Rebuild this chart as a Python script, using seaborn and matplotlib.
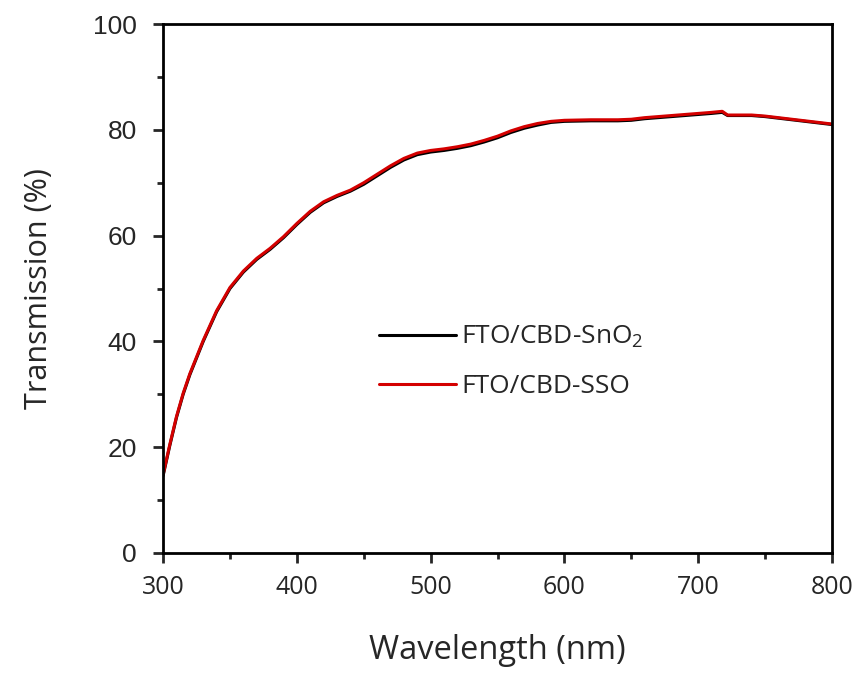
import numpy as np
import matplotlib
matplotlib.use("Agg")
import matplotlib.pyplot as plt
import pandas as pd
import seaborn as sns
from matplotlib.ticker import MultipleLocator

# wavelength grid (nm) and transmission (%)
wavelength = [300, 305, 310, 315, 320, 330, 340, 350, 360, 370, 380, 390,
              400, 410, 420, 430, 440, 450, 460, 470, 480, 490, 500, 510,
              520, 530, 540, 550, 560, 570, 580, 590, 600, 620, 640, 650,
              660, 670, 680, 690, 700, 710, 718, 722, 730, 740, 750, 760,
              770, 780, 790, 800]
t_sno2 = [14.6, 20.3, 25.6, 30.0, 33.7, 40.0, 45.6, 50.0, 53.1, 55.5, 57.4, 59.6,
          62.1, 64.4, 66.2, 67.4, 68.4, 69.7, 71.3, 72.9, 74.3, 75.3, 75.8, 76.1,
          76.5, 77.0, 77.7, 78.5, 79.5, 80.3, 80.9, 81.4, 81.6, 81.7, 81.7, 81.8,
          82.1, 82.3, 82.5, 82.7, 82.9, 83.1, 83.3, 82.7, 82.7, 82.7, 82.5, 82.2,
          81.9, 81.6, 81.3, 81.0]
t_sso = [14.8, 20.5, 25.8, 30.2, 33.9, 40.2, 45.8, 50.2, 53.3, 55.7, 57.6, 59.8,
         62.3, 64.6, 66.4, 67.6, 68.6, 70.0, 71.6, 73.2, 74.6, 75.6, 76.1, 76.4,
         76.8, 77.3, 78.0, 78.8, 79.8, 80.6, 81.2, 81.6, 81.8, 81.9, 81.9, 82.0,
         82.3, 82.5, 82.7, 82.9, 83.1, 83.3, 83.5, 82.8, 82.8, 82.8, 82.6, 82.3,
         82.0, 81.7, 81.4, 81.1]

df = pd.DataFrame({"wavelength": wavelength, "sno2": t_sno2, "sso": t_sso})

sns.set_style("white")
plt.rcParams["font.family"] = ["Open Sans", "DejaVu Sans"]
plt.rcParams["mathtext.default"] = "regular"

fig = plt.figure(figsize=(8.63, 6.79), dpi=100)
ax = fig.add_axes([0.189, 0.1856, 0.775, 0.779])

sns.lineplot(data=df, x="wavelength", y="sno2", color="black", lw=2.2,
             label="FTO/CBD-SnO$_2$", ax=ax)
sns.lineplot(data=df, x="wavelength", y="sso", color="#d40000", lw=2.2,
             label="FTO/CBD-SSO", ax=ax)

ax.set_xlim(300, 800)
ax.set_ylim(0, 100)
ax.xaxis.set_major_locator(MultipleLocator(100))
ax.xaxis.set_minor_locator(MultipleLocator(50))
ax.yaxis.set_major_locator(MultipleLocator(20))
ax.yaxis.set_minor_locator(MultipleLocator(10))

for sp in ax.spines.values():
    sp.set_linewidth(2)
    sp.set_color("black")
ax.tick_params(which="major", direction="out", length=7, width=2,
               bottom=True, left=True, top=False, right=False)
ax.tick_params(which="minor", direction="out", length=4, width=2,
               bottom=True, left=True, top=False, right=False)
ax.tick_params(axis="x", labelsize=18, pad=9)
ax.tick_params(axis="y", labelsize=19, pad=12)
for lab in ax.get_yticklabels():
    lab.set_family("Liberation Sans")

ax.set_xlabel("Wavelength (nm)", fontsize=23.5, labelpad=24)
ax.set_ylabel("Transmission (%)", fontsize=22, labelpad=28)

ax.legend(loc="center left", bbox_to_anchor=(0.288, 0.362), frameon=False,
          fontsize=19, handlelength=2.9, handletextpad=0.2, labelspacing=0.9)

fig.savefig("out.png", dpi=100)
